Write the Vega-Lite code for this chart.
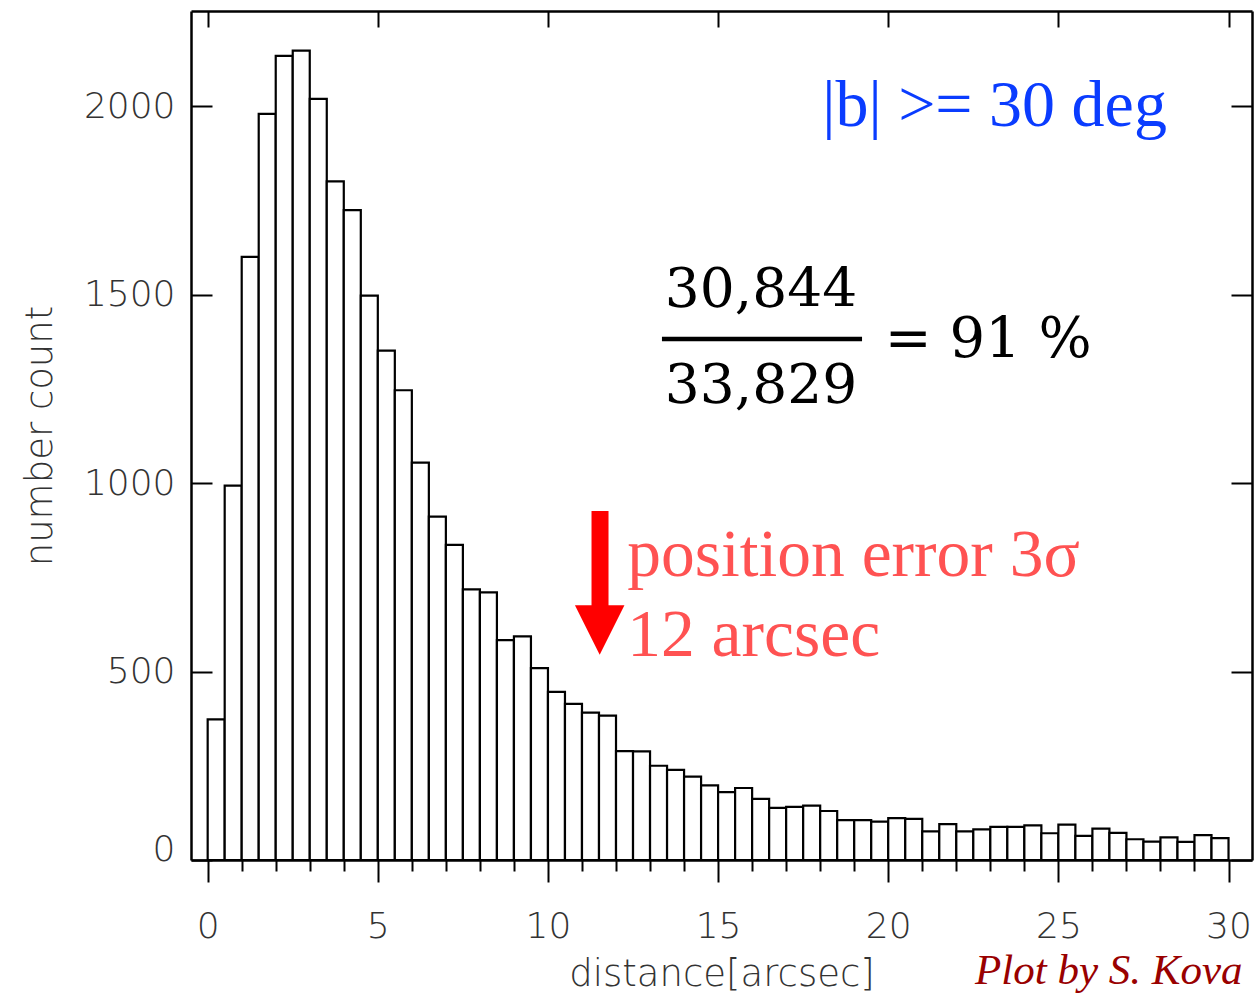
{
  "$schema": "https://vega.github.io/schema/vega-lite/v6.json",
  "width": 1061,
  "height": 849,
  "autosize": {"type": "none"},
  "padding": {"left": 191, "top": 11, "right": 2, "bottom": 135},
  "background": "white",
  "config": {
    "view": {"stroke": null},
    "axis": {
      "domainColor": "black",
      "domainWidth": 2.5,
      "tickColor": "black",
      "tickWidth": 2,
      "grid": false,
      "labelFont": "DejaVu Sans",
      "labelFontWeight": 200,
      "labelFontSize": 36,
      "labelColor": "#333333",
      "titleFont": "DejaVu Sans",
      "titleFontWeight": 200,
      "titleFontSize": 37,
      "titleColor": "#333333"
    }
  },
  "datasets": {
    "hist": [
      {"lo": 0.0, "hi": 0.5, "count": 373},
      {"lo": 0.5, "hi": 1.0, "count": 993},
      {"lo": 1.0, "hi": 1.5, "count": 1600},
      {"lo": 1.5, "hi": 2.0, "count": 1979},
      {"lo": 2.0, "hi": 2.5, "count": 2133},
      {"lo": 2.5, "hi": 3.0, "count": 2147},
      {"lo": 3.0, "hi": 3.5, "count": 2019},
      {"lo": 3.5, "hi": 4.0, "count": 1800},
      {"lo": 4.0, "hi": 4.5, "count": 1724},
      {"lo": 4.5, "hi": 5.0, "count": 1497},
      {"lo": 5.0, "hi": 5.5, "count": 1351},
      {"lo": 5.5, "hi": 6.0, "count": 1246},
      {"lo": 6.0, "hi": 6.5, "count": 1054},
      {"lo": 6.5, "hi": 7.0, "count": 911},
      {"lo": 7.0, "hi": 7.5, "count": 836},
      {"lo": 7.5, "hi": 8.0, "count": 718},
      {"lo": 8.0, "hi": 8.5, "count": 710},
      {"lo": 8.5, "hi": 9.0, "count": 583},
      {"lo": 9.0, "hi": 9.5, "count": 593},
      {"lo": 9.5, "hi": 10.0, "count": 509},
      {"lo": 10.0, "hi": 10.5, "count": 446},
      {"lo": 10.5, "hi": 11.0, "count": 414},
      {"lo": 11.0, "hi": 11.5, "count": 391},
      {"lo": 11.5, "hi": 12.0, "count": 383},
      {"lo": 12.0, "hi": 12.5, "count": 289},
      {"lo": 12.5, "hi": 13.0, "count": 288},
      {"lo": 13.0, "hi": 13.5, "count": 250},
      {"lo": 13.5, "hi": 14.0, "count": 239},
      {"lo": 14.0, "hi": 14.5, "count": 221},
      {"lo": 14.5, "hi": 15.0, "count": 198},
      {"lo": 15.0, "hi": 15.5, "count": 180},
      {"lo": 15.5, "hi": 16.0, "count": 191},
      {"lo": 16.0, "hi": 16.5, "count": 162},
      {"lo": 16.5, "hi": 17.0, "count": 138},
      {"lo": 17.0, "hi": 17.5, "count": 141},
      {"lo": 17.5, "hi": 18.0, "count": 144},
      {"lo": 18.0, "hi": 18.5, "count": 130},
      {"lo": 18.5, "hi": 19.0, "count": 106},
      {"lo": 19.0, "hi": 19.5, "count": 106},
      {"lo": 19.5, "hi": 20.0, "count": 102},
      {"lo": 20.0, "hi": 20.5, "count": 111},
      {"lo": 20.5, "hi": 21.0, "count": 109},
      {"lo": 21.0, "hi": 21.5, "count": 76},
      {"lo": 21.5, "hi": 22.0, "count": 95},
      {"lo": 22.0, "hi": 22.5, "count": 76},
      {"lo": 22.5, "hi": 23.0, "count": 81},
      {"lo": 23.0, "hi": 23.5, "count": 88},
      {"lo": 23.5, "hi": 24.0, "count": 88},
      {"lo": 24.0, "hi": 24.5, "count": 92},
      {"lo": 24.5, "hi": 25.0, "count": 71},
      {"lo": 25.0, "hi": 25.5, "count": 94},
      {"lo": 25.5, "hi": 26.0, "count": 64},
      {"lo": 26.0, "hi": 26.5, "count": 83},
      {"lo": 26.5, "hi": 27.0, "count": 72},
      {"lo": 27.0, "hi": 27.5, "count": 55},
      {"lo": 27.5, "hi": 28.0, "count": 49},
      {"lo": 28.0, "hi": 28.5, "count": 60},
      {"lo": 28.5, "hi": 29.0, "count": 48},
      {"lo": 29.0, "hi": 29.5, "count": 66},
      {"lo": 29.5, "hi": 30.0, "count": 58}
    ]
  },
  "resolve": {"axis": {"x": "independent", "y": "independent"}},
  "layer": [
    {
      "data": {"name": "hist"},
      "mark": {"type": "rect", "fill": "white", "stroke": "black", "strokeWidth": 2.2},
      "encoding": {
        "x": {
          "field": "lo", "type": "quantitative",
          "scale": {"domain": [-0.49, 30.69], "nice": false, "zero": false},
          "axis": {
            "orient": "bottom",
            "title": "distance[arcsec]",
            "values": [0,1,2,3,4,5,6,7,8,9,10,11,12,13,14,15,16,17,18,19,20,21,22,23,24,25,26,27,28,29,30],
            "labelExpr": "datum.value % 5 === 0 ? datum.label : ''",
            "tickSize": {"condition": {"test": "datum.value % 5 === 0", "value": 22}, "value": 11},
            "labelPadding": 27,
            "labelFlush": false,
            "labelOverlap": false,
            "titlePadding": 12
          }
        },
        "x2": {"field": "hi"},
        "y": {
          "field": "count", "type": "quantitative",
          "scale": {"domain": [0, 2252], "nice": false},
          "axis": {
            "orient": "left",
            "title": "number count",
            "format": "d",
            "values": [0, 500, 1000, 1500, 2000],
            "tickSize": -21,
            "labelPadding": 37,
            "labelBaseline": {"condition": {"test": "datum.value === 0", "value": "alphabetic"}, "value": "middle"},
            "labelFlush": false,
            "titlePadding": 24
          }
        },
        "y2": {"datum": 0}
      }
    },
    {
      "data": {"name": "hist"},
      "mark": {"type": "point", "opacity": 0},
      "encoding": {
        "x": {
          "field": "lo", "type": "quantitative",
          "scale": {"domain": [-0.49, 30.69], "nice": false, "zero": false},
          "axis": {"orient": "top", "title": null, "labels": false, "values": [0,5,10,15,20,25,30], "tickSize": -16}
        },
        "y": {
          "field": "count", "type": "quantitative",
          "scale": {"domain": [0, 2252], "nice": false},
          "axis": {"orient": "right", "title": null, "labels": false, "values": [0, 500, 1000, 1500, 2000], "tickSize": -21}
        }
      }
    },
    {
      "data": {"values": [{"x": 18.06, "y": 1947, "label": "|b| >= 30 deg"}]},
      "mark": {"type": "text", "font": "Liberation Serif", "fontSize": 66, "color": "#0a3cff", "align": "left", "baseline": "alphabetic"},
      "encoding": {
        "x": {"field": "x", "type": "quantitative", "axis": null, "scale": {"domain": [-0.49, 30.69], "nice": false, "zero": false}},
        "y": {"field": "y", "type": "quantitative", "axis": null, "scale": {"domain": [0, 2252], "nice": false}},
        "text": {"field": "label"}
      }
    },
    {
      "data": {"values": [{"x": 16.26, "y": 1467, "label": "30,844"}, {"x": 16.26, "y": 1212, "label": "33,829"}]},
      "mark": {"type": "text", "font": "DejaVu Serif", "fontSize": 55, "color": "black", "align": "center", "baseline": "alphabetic"},
      "encoding": {
        "x": {"field": "x", "type": "quantitative", "axis": null, "scale": {"domain": [-0.49, 30.69], "nice": false, "zero": false}},
        "y": {"field": "y", "type": "quantitative", "axis": null, "scale": {"domain": [0, 2252], "nice": false}},
        "text": {"field": "label"}
      }
    },
    {
      "data": {"values": [{"x": 19.9, "y": 1334, "label": "= 91 %"}]},
      "mark": {"type": "text", "font": "DejaVu Serif", "fontSize": 56, "color": "black", "align": "left", "baseline": "alphabetic"},
      "encoding": {
        "x": {"field": "x", "type": "quantitative", "axis": null, "scale": {"domain": [-0.49, 30.69], "nice": false, "zero": false}},
        "y": {"field": "y", "type": "quantitative", "axis": null, "scale": {"domain": [0, 2252], "nice": false}},
        "text": {"field": "label"}
      }
    },
    {
      "data": {"values": [{"x1": 13.35, "x2": 19.23, "y": 1382}]},
      "mark": {"type": "rule", "color": "black", "strokeWidth": 4.5},
      "encoding": {
        "x": {"field": "x1", "type": "quantitative", "axis": null, "scale": {"domain": [-0.49, 30.69], "nice": false, "zero": false}},
        "x2": {"field": "x2"},
        "y": {"field": "y", "type": "quantitative", "axis": null, "scale": {"domain": [0, 2252], "nice": false}}
      }
    },
    {
      "data": {"values": [{"x": 11.53, "y1": 926, "y2": 620}]},
      "mark": {"type": "rule", "color": "#ff0000", "strokeWidth": 17},
      "encoding": {
        "x": {"field": "x", "type": "quantitative", "axis": null, "scale": {"domain": [-0.49, 30.69], "nice": false, "zero": false}},
        "y": {"field": "y1", "type": "quantitative", "axis": null, "scale": {"domain": [0, 2252], "nice": false}},
        "y2": {"field": "y2"}
      }
    },
    {
      "data": {"values": [{"x": 11.52, "y": 610}]},
      "mark": {"type": "point", "shape": "M-1,-1L1,-1L0,1Z", "size": 2450, "filled": true, "color": "#ff0000", "opacity": 1, "strokeWidth": 0},
      "encoding": {
        "x": {"field": "x", "type": "quantitative", "axis": null, "scale": {"domain": [-0.49, 30.69], "nice": false, "zero": false}},
        "y": {"field": "y", "type": "quantitative", "axis": null, "scale": {"domain": [0, 2252], "nice": false}}
      }
    },
    {
      "data": {"values": [{"x": 12.33, "y": 753, "label": "position error 3σ"}, {"x": 12.33, "y": 541, "label": "12 arcsec"}]},
      "mark": {"type": "text", "font": "Liberation Serif", "fontSize": 67.5, "color": "#ff5252", "align": "left", "baseline": "alphabetic"},
      "encoding": {
        "x": {"field": "x", "type": "quantitative", "axis": null, "scale": {"domain": [-0.49, 30.69], "nice": false, "zero": false}},
        "y": {"field": "y", "type": "quantitative", "axis": null, "scale": {"domain": [0, 2252], "nice": false}},
        "text": {"field": "label"}
      }
    },
    {
      "data": {"values": [{"x": 22.55, "y": -330, "label": "Plot by S. Kova"}]},
      "mark": {"type": "text", "font": "Liberation Serif", "fontSize": 43, "fontStyle": "italic", "color": "#990000", "align": "left", "baseline": "alphabetic"},
      "encoding": {
        "x": {"field": "x", "type": "quantitative", "axis": null, "scale": {"domain": [-0.49, 30.69], "nice": false, "zero": false}},
        "y": {"field": "y", "type": "quantitative", "axis": null, "scale": {"domain": [0, 2252], "nice": false}},
        "text": {"field": "label"}
      }
    }
  ]
}
